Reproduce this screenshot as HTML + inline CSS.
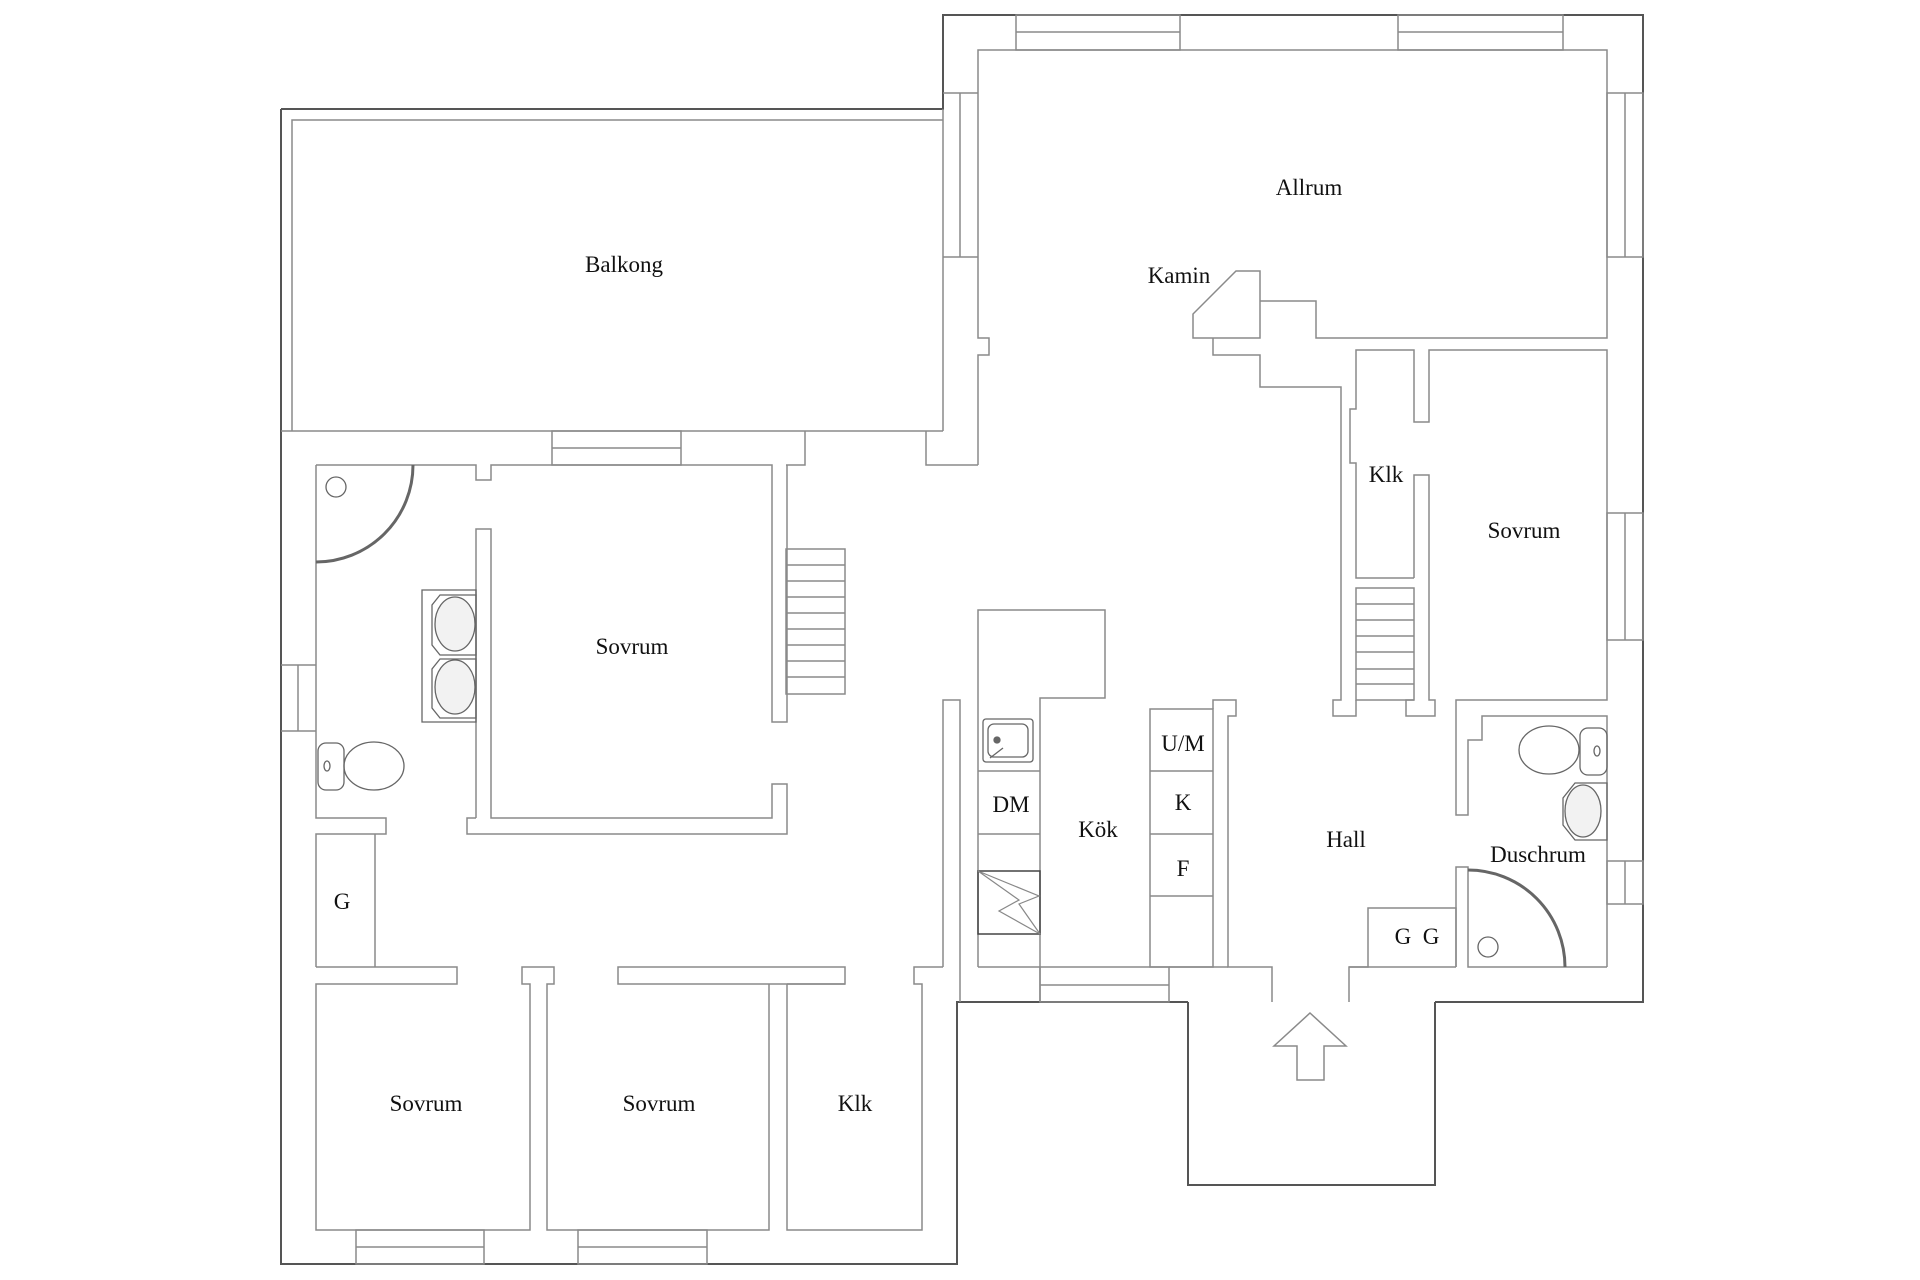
<!DOCTYPE html>
<html><head><meta charset="utf-8"><style>
html,body{margin:0;padding:0;background:#fff}
svg{display:block}
text{font-family:"Liberation Serif",serif;font-size:23px;fill:#111;text-anchor:middle}
</style></head><body>
<svg width="1920" height="1280" viewBox="0 0 1920 1280" xmlns="http://www.w3.org/2000/svg">
<g fill="none" stroke="#555" stroke-width="2">
<polyline points="281,109 943,109 943,15 1643,15 1643,1002 1435,1002"/>
<polyline points="281,109 281,1264 957,1264 957,1002 1188,1002"/>
<polyline points="1188,1002 1188,1185 1435,1185 1435,1002"/>
</g>
<g fill="none" stroke="#8a8a8a" stroke-width="1.5">
<polyline points="292,431 292,120 943,120"/>
<line x1="281" y1="431" x2="943" y2="431"/>
<line x1="943" y1="109" x2="943" y2="431"/>
<line x1="960" y1="93" x2="960" y2="257"/>
<line x1="943" y1="93" x2="978" y2="93"/>
<line x1="943" y1="257" x2="978" y2="257"/>
<rect x="552" y="431" width="129" height="34"/>
<line x1="552" y1="448" x2="681" y2="448"/>
<polyline points="805,431 805,465 786,465"/>
<polyline points="926,431 926,465 978,465"/>
<polyline points="316,465 476,465 476,480 491,480 491,465 772,465 772,722 787,722 787,465"/>
<polyline points="316,465 316,818 386,818 386,834 316,834 316,967"/>
<line x1="281" y1="665" x2="316" y2="665"/>
<line x1="281" y1="731" x2="316" y2="731"/>
<line x1="298" y1="665" x2="298" y2="731"/>
<polyline points="476,818 476,529 491,529 491,818 772,818 772,784 787,784 787,834 467,834 467,818 476,818"/>
<rect x="786" y="549" width="59" height="145"/>
<line x1="786" y1="565" x2="845" y2="565"/><line x1="786" y1="581" x2="845" y2="581"/>
<line x1="786" y1="597" x2="845" y2="597"/><line x1="786" y1="613" x2="845" y2="613"/>
<line x1="786" y1="629" x2="845" y2="629"/><line x1="786" y1="645" x2="845" y2="645"/>
<line x1="786" y1="661" x2="845" y2="661"/><line x1="786" y1="677" x2="845" y2="677"/>
<line x1="375" y1="834" x2="375" y2="967"/>
<polyline points="316,967 457,967 457,984 316,984 316,1230 530,1230 530,984 522,984 522,967 554,967 554,984 547,984 547,1230 769,1230 769,984 845,984 845,967 618,967 618,984 769,984"/>
<polyline points="787,984 787,1230 922,1230 922,984 914,984 914,967 943,967"/>
<line x1="787" y1="984" x2="845" y2="984"/>
<rect x="356" y="1230" width="128" height="34"/><line x1="356" y1="1247" x2="484" y2="1247"/>
<rect x="578" y="1230" width="129" height="34"/><line x1="578" y1="1247" x2="707" y2="1247"/>
<polyline points="943,967 943,700 960,700 960,1002"/>
<polyline points="978,967 978,610 1105,610 1105,698 1040,698 1040,1002"/>
<line x1="978" y1="967" x2="1040" y2="967"/>
<line x1="978" y1="771" x2="1040" y2="771"/>
<line x1="978" y1="834" x2="1040" y2="834"/>
<rect x="1040" y="967" width="129" height="35"/><line x1="1040" y1="985" x2="1169" y2="985"/>
<polyline points="978,465 978,355 989,355 989,338 978,338 978,50 1607,50 1607,338 1316,338 1316,301 1260,301"/>
<polygon points="1236,271 1260,271 1260,338 1193,338 1193,314"/>
<polyline points="1213,338 1213,355 1260,355 1260,387 1341,387 1341,700 1333,700 1333,716 1356,716 1356,700"/>
<rect x="1016" y="15" width="164" height="35"/><line x1="1016" y1="32" x2="1180" y2="32"/>
<rect x="1398" y="15" width="165" height="35"/><line x1="1398" y1="32" x2="1563" y2="32"/>
<rect x="1607" y="93" width="36" height="164"/><line x1="1625" y1="93" x2="1625" y2="257"/>
<rect x="1607" y="513" width="36" height="127"/><line x1="1625" y1="513" x2="1625" y2="640"/>
<rect x="1607" y="861" width="36" height="43"/><line x1="1625" y1="861" x2="1625" y2="904"/>
<polyline points="1414,578 1356,578 1356,463 1350,463 1350,409 1356,409 1356,350 1414,350 1414,422 1429,422 1429,350 1607,350 1607,700 1456,700 1456,815 1468,815 1468,740 1482,740 1482,716 1607,716 1607,967"/>
<polyline points="1414,578 1414,475 1429,475 1429,700 1435,700 1435,716 1406,716 1406,700 1414,700"/>
<rect x="1356" y="588" width="58" height="112"/>
<line x1="1356" y1="604" x2="1414" y2="604"/><line x1="1356" y1="620" x2="1414" y2="620"/>
<line x1="1356" y1="636" x2="1414" y2="636"/><line x1="1356" y1="652" x2="1414" y2="652"/>
<line x1="1356" y1="669" x2="1414" y2="669"/><line x1="1356" y1="684" x2="1414" y2="684"/>
<rect x="1150" y="709" width="63" height="258"/>
<line x1="1150" y1="771" x2="1213" y2="771"/><line x1="1150" y1="834" x2="1213" y2="834"/><line x1="1150" y1="896" x2="1213" y2="896"/>
<polyline points="1213,709 1213,700 1236,700 1236,716 1228,716 1228,967 1272,967 1272,1002"/>
<line x1="1169" y1="967" x2="1228" y2="967"/>
<polyline points="1349,1002 1349,967 1368,967 1368,908 1456,908 1456,967"/>
<polyline points="1456,967 1456,867 1468,867 1468,967 1607,967"/>
<line x1="1349" y1="967" x2="1456" y2="967"/>
<polygon points="1310,1013 1346,1046 1324,1046 1324,1080 1297,1080 1297,1046 1274,1046"/>
</g>
<g fill="none" stroke="#666" stroke-width="3">
<path d="M413,465 A97,97 0 0 1 316,562"/>
<path d="M1468,870 A97,97 0 0 1 1565,967"/>
</g>
<g fill="none" stroke="#666" stroke-width="1.3">
<circle cx="336" cy="487" r="10"/>
<circle cx="1488" cy="947" r="10"/>
<polygon points="422,590 476,590 476,722 422,722"/>
<path d="M476,595 L440,595 L432,605 L432,645 L440,655 L476,655 Z"/>
<ellipse cx="455" cy="624" rx="20" ry="27" fill="#f2f2f2"/>
<path d="M476,659 L440,659 L432,669 L432,708 L440,718 L476,718 Z"/>
<ellipse cx="455" cy="687" rx="20" ry="27" fill="#f2f2f2"/>
<ellipse cx="374" cy="766" rx="30" ry="24"/>
<rect x="318" y="743" width="26" height="47" rx="8"/>
<ellipse cx="327" cy="766" rx="3" ry="5"/>
<ellipse cx="1549" cy="750" rx="30" ry="24"/>
<rect x="1580" y="728" width="27" height="47" rx="8"/>
<ellipse cx="1597" cy="751" rx="3" ry="5"/>
<path d="M1607,783 L1575,783 L1563,798 L1563,825 L1575,840 L1607,840 Z"/>
<ellipse cx="1583" cy="811" rx="18" ry="26" fill="#f2f2f2"/>
<rect x="983" y="719" width="50" height="43" rx="3"/>
<rect x="988" y="724" width="40" height="33" rx="6"/>
<circle cx="997" cy="740" r="3" fill="#666"/>
<line x1="990" y1="758" x2="1003" y2="748"/>
</g>
<rect x="978" y="871" width="62" height="63" fill="none" stroke="#444" stroke-width="1.5"/>
<polyline points="978,871 1019,900 999,911 1040,934 1019,904 1039,896 978,871" fill="none" stroke="#888" stroke-width="1.2"/>
<text x="624" y="272">Balkong</text>
<text x="1309" y="195">Allrum</text>
<text x="1179" y="283">Kamin</text>
<text x="1386" y="482">Klk</text>
<text x="1524" y="538">Sovrum</text>
<text x="632" y="654">Sovrum</text>
<text x="1011" y="812">DM</text>
<text x="1098" y="837">Kök</text>
<text x="1183" y="751">U/M</text>
<text x="1183" y="810">K</text>
<text x="1183" y="876">F</text>
<text x="1346" y="847">Hall</text>
<text x="1538" y="862">Duschrum</text>
<text x="1417" y="944">G&#160;&#160;G</text>
<text x="342" y="909">G</text>
<text x="426" y="1111">Sovrum</text>
<text x="659" y="1111">Sovrum</text>
<text x="855" y="1111">Klk</text>
</svg>
</body></html>
